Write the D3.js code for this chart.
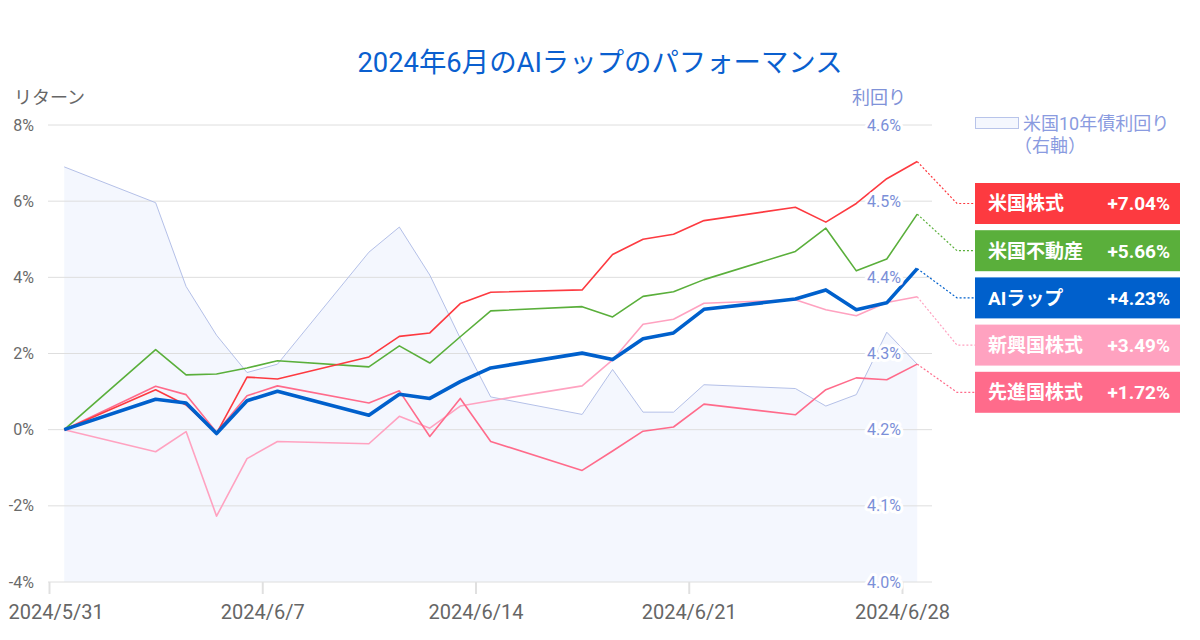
<!DOCTYPE html>
<html><head><meta charset="utf-8">
<script src="https://cdn.jsdelivr.net/npm/d3@7"></script>
<style>
html,body{margin:0;padding:0;background:#fff;}
svg{display:block;font-family:Roboto,"Noto Sans CJK JP",sans-serif;}
</style></head>
<body><svg id="c" width="1200" height="640"></svg>
<script>
const dates = ["2024-05-31","2024-06-03","2024-06-04","2024-06-05","2024-06-06","2024-06-07","2024-06-10","2024-06-11","2024-06-12","2024-06-13","2024-06-14","2024-06-17","2024-06-18","2024-06-19","2024-06-20","2024-06-21","2024-06-24","2024-06-25","2024-06-26","2024-06-27","2024-06-28"];
const usStock   = [0,1.05,0.65,-0.10,1.38,1.33,1.91,2.45,2.54,3.31,3.61,3.67,4.60,5.00,5.13,5.49,5.84,5.45,5.94,6.59,7.04];
const usReit    = [0,2.10,1.44,1.46,1.62,1.81,1.65,2.20,1.75,2.44,3.12,3.23,2.96,3.50,3.62,3.94,4.68,5.29,4.17,4.48,5.66];
const aiWrap    = [0,0.80,0.70,-0.10,0.76,1.01,0.38,0.93,0.82,1.26,1.62,2.01,1.84,2.39,2.54,3.16,3.43,3.67,3.15,3.33,4.23];
const emStock   = [0,-0.58,-0.05,-2.27,-0.76,-0.31,-0.37,0.35,0.04,0.62,0.76,1.15,1.83,2.77,2.90,3.32,3.41,3.15,2.99,3.34,3.49];
const dmStock   = [0,1.14,0.92,-0.07,0.89,1.15,0.70,1.02,-0.18,0.82,-0.31,-1.07,-0.56,-0.04,0.07,0.67,0.39,1.05,1.36,1.31,1.72];
const us10y     = [4.545,4.498,4.388,4.324,4.275,4.286,4.433,4.466,4.403,4.32,4.243,4.220,4.279,4.223,4.223,4.259,4.254,4.231,4.246,4.328,4.286];
const seriesNames  = ["米国株式","米国不動産","AIラップ","新興国株式","先進国株式"];
const seriesColors = ["#fd3a40","#5aaf3b","#0060cc","#ffa2c0","#ff6b8b"];
const leftTicks  = [-4,-2,0,2,4,6,8];
const rightTicks = [4.0,4.1,4.2,4.3,4.4,4.5,4.6];
const xTickLabels = ["2024/5/31","2024/6/7","2024/6/14","2024/6/21","2024/6/28"];
const titleText = "2024年6月のAIラップのパフォーマンス";

const seriesVals = [usStock, usReit, aiWrap, emStock, dmStock];
const parse = d3.timeParse("%Y-%m-%d");
const pDates = dates.map(d => d3.timeHour.offset(parse(d), 12));
const tickDates = xTickLabels.map(d3.timeParse("%Y/%m/%d"));

const svg = d3.select("#c");
const x = d3.scaleTime().domain([tickDates[0], tickDates[tickDates.length-1]]).range([49, 902]);
const y = d3.scaleLinear().domain([-4, 8]).range([582, 125]);
const y2 = d3.scaleLinear().domain([4.0, 4.6]).range([582, 125]);
const gridL = 48, gridR = 932;

// title
svg.append("text").attr("x", 600).attr("y", 72).attr("text-anchor","middle")
  .attr("font-size", 27.4).attr("fill", "#0a5fcf").text(titleText);

// axis titles
svg.append("text").attr("x", 14).attr("y", 104).attr("font-size", 18).attr("fill", "#666").text("リターン");
svg.append("text").attr("x", 852).attr("y", 104).attr("font-size", 18).attr("fill", "#7f92d8").text("利回り");

// yield area
const area = d3.area().x((d,i) => x(pDates[i])).y0(582).y1(d => y2(d));
svg.append("path").datum(us10y).attr("d", area).attr("fill", "#f4f7fe");

// grid
svg.append("g").selectAll("line").data(leftTicks).join("line")
  .attr("x1", gridL).attr("x2", gridR).attr("y1", d => y(d)).attr("y2", d => y(d))
  .attr("stroke", "#dedede").attr("stroke-width", 1);

// x axis ticks
const xAxis = d3.axisBottom(x).tickValues(tickDates).tickSize(12).tickFormat((d,i) => xTickLabels[i]);
const gx = svg.append("g").attr("transform", "translate(0,582)").call(xAxis);
gx.select(".domain").remove();
gx.selectAll(".tick line").attr("stroke", "#e0e0e0").attr("stroke-width", 2);
gx.selectAll(".tick text").attr("font-size", 20).attr("fill", "#666").attr("y", 37).attr("dy", 0)
  .attr("font-family", "Roboto, 'Noto Sans CJK JP', sans-serif");
gx.selectAll(".tick text").filter((d,i) => i === 0).attr("text-anchor", "start").attr("x", 8 - 49);

// left axis labels
const yAxis = d3.axisLeft(y).tickValues(leftTicks).tickSize(0).tickPadding(0).tickFormat(d => d + "%");
const gy = svg.append("g").attr("transform", "translate(34,0)").call(yAxis);
gy.select(".domain").remove();
gy.selectAll(".tick text").attr("font-size", 16).attr("fill", "#6a6a6a")
  .attr("font-family", "Roboto, 'Noto Sans CJK JP', sans-serif");

// yield line
const line2 = d3.line().x((d,i) => x(pDates[i])).y(d => y2(d));
svg.append("path").datum(us10y).attr("d", line2).attr("fill", "none").attr("stroke", "#b4c0e8").attr("stroke-width", 1);

// series lines
const line = d3.line().x((d,i) => x(pDates[i])).y(d => y(d));
const drawOrder = [3, 4, 1, 0, 2];
drawOrder.forEach(k => {
  svg.append("path").datum(seriesVals[k]).attr("d", line).attr("fill", "none")
    .attr("stroke", seriesColors[k]).attr("stroke-width", k === 2 ? 3.6 : 1.6)
    .attr("stroke-linejoin", "round");
});

// right axis labels with halo
const yAxisR = d3.axisLeft(y2).tickValues(rightTicks).tickSize(0).tickPadding(0).tickFormat(d => d.toFixed(1) + "%");
const gyr = svg.append("g").attr("transform", "translate(901,0)").call(yAxisR);
gyr.select(".domain").remove();
gyr.selectAll(".tick text").attr("font-size", 16).attr("fill", "#7b8fd8")
  .attr("stroke", "#fff").attr("stroke-width", 6).attr("stroke-linejoin", "round")
  .attr("paint-order", "stroke")
  .attr("font-family", "Roboto, 'Noto Sans CJK JP', sans-serif");

// legend
svg.append("rect").attr("x", 975.5).attr("y", 117.5).attr("width", 43).attr("height", 11)
  .attr("fill", "#f4f7fe").attr("stroke", "#b8c4ea").attr("stroke-width", 1);
svg.append("text").attr("x", 1023).attr("y", 130).attr("font-size", 18).attr("fill", "#8a9be0").text("米国10年債利回り");
svg.append("text").attr("x", 1014).attr("y", 152).attr("font-size", 18).attr("fill", "#8a9be0").text("（右軸）");

// end labels
const boxX = 975, boxW = 205, boxH = 41, boxTop = 183, boxStep = 47.2;
const last = dates.length - 1;
seriesNames.forEach((name, i) => {
  const vals = seriesVals[i];
  const cy = boxTop + i * boxStep + boxH / 2;
  const px = x(pDates[last]), py = y(vals[last]);
  svg.append("path").attr("d", `M${px},${py}L957,${cy}L${boxX},${cy}`)
    .attr("fill", "none").attr("stroke", seriesColors[i]).attr("stroke-width", 1.2)
    .attr("stroke-dasharray", "2,2");
  svg.append("rect").attr("x", boxX).attr("y", boxTop + i * boxStep).attr("width", boxW).attr("height", boxH)
    .attr("fill", seriesColors[i]);
  svg.append("text").attr("x", 988).attr("y", cy).attr("dy", "0.36em").attr("font-size", 19)
    .attr("font-weight", "bold").attr("fill", "#fff").text(name);
  svg.append("text").attr("x", 1170).attr("y", cy).attr("dy", "0.36em").attr("font-size", 19)
    .attr("font-weight", "bold").attr("fill", "#fff").attr("text-anchor", "end")
    .text("+" + vals[last].toFixed(2) + "%");
});
</script></body></html>
